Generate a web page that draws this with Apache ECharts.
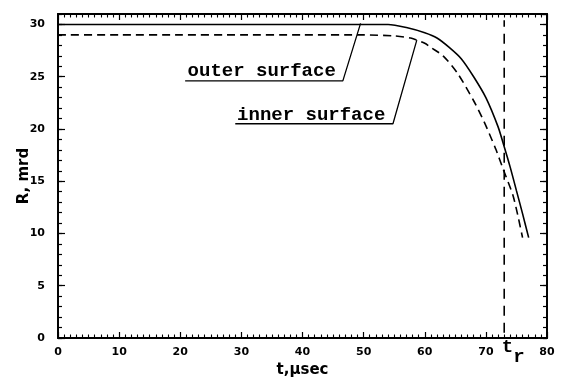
<!DOCTYPE html>
<html>
<head>
<meta charset="utf-8">
<script src="https://cdn.jsdelivr.net/npm/echarts@6/dist/echarts.min.js"></script>
<style>html,body{margin:0;padding:0;background:#fff}#c{width:563px;height:383px}</style>
</head>
<body>
<div id="c"></div>
<script>
// ---- data ----
const tOuter = [0, 10, 20, 30, 40, 50, 54, 57, 60, 62, 64, 66, 68, 70, 72, 73, 74, 75, 76, 77];
const rOuter = [30, 30, 30, 30, 30, 30, 30, 29.7, 29.2, 28.7, 27.8, 26.7, 25.0, 23.0, 20.2, 18.3, 16.3, 14.1, 11.9, 9.6];
const tInner = [0, 10, 20, 30, 40, 50, 55, 57.7, 60, 61, 63, 65.4, 68, 69.7, 71.6, 72.8, 74.4, 75.2, 76];
const rInner = [29, 29, 29, 29, 29, 29, 28.9, 28.7, 28.2, 27.8, 27.0, 25.3, 22.7, 20.7, 18.1, 16.2, 13.7, 11.8, 9.6];
const tR = 73;
const tRLine = [0.5, 30.4];
const outerLeader = [[20.8, 24.6], [46.6, 24.6], [49.5, 30.1]];
const innerLeader = [[29.0, 20.5], [54.8, 20.5], [58.7, 28.5]];
const outerLabel = {text: 'outer surface', at: [21.2, 25.5]};
const innerLabel = {text: 'inner surface', at: [29.3, 21.3]};
const xTicks = {min: 0, max: 80, interval: 10};
const yTicks = {min: 0, max: 31, interval: 5};

const zip = (a, b) => a.map((v, i) => [v, b[i]]);
const axFont = {fontFamily: 'DejaVu Sans', fontWeight: 'bold', fontSize: 11, color: '#000'};

function xAx(pos, show) {
  return {
    type: 'value', position: pos, min: xTicks.min, max: xTicks.max, interval: xTicks.interval,
    axisLine: {show: true, onZero: false, lineStyle: {color: '#000', width: 1.8}},
    axisTick: {show: true, inside: true, length: 6, lineStyle: {color: '#000', width: 1.2}},
    minorTick: {show: true, splitNumber: 10, length: 3.5, lineStyle: {color: '#000', width: 1.1}},
    axisLabel: Object.assign({show: show, margin: 9}, axFont),
    splitLine: {show: false}, minorSplitLine: {show: false},
    name: show ? 't,\u03bcsec' : '', nameLocation: 'middle', nameGap: 25,
    nameTextStyle: {fontFamily: 'DejaVu Sans', fontWeight: 'bold', fontSize: 15, color: '#000'}
  };
}
function yAx(pos, interval, tickLen, show) {
  return {
    type: 'value', position: pos, min: yTicks.min, max: yTicks.max, interval: interval,
    axisLine: {show: true, onZero: false, lineStyle: {color: '#000', width: 1.8}},
    axisTick: {show: true, inside: true, length: tickLen, lineStyle: {color: '#000', width: 1.2}},
    axisLabel: Object.assign({show: show, margin: 13, showMaxLabel: false}, axFont),
    splitLine: {show: false},
    name: show ? 'R, mrd' : '', nameLocation: 'middle', nameGap: 26, nameRotate: 90,
    nameMoveOverlap: false,
    nameTextStyle: {fontFamily: 'DejaVu Sans', fontWeight: 'bold', fontSize: 15, color: '#000'}
  };
}

const annFont = {fontFamily: 'Liberation Mono', fontWeight: 'bold', fontSize: 19, color: '#000',
  textBorderWidth: 0, textShadowBlur: 0, opacity: 1};

const option = {
  animation: false,
  backgroundColor: '#fff',
  grid: {left: 58, right: 16, top: 14, bottom: 45, containLabel: false},
  xAxis: [xAx('bottom', true), xAx('top', false)],
  yAxis: [
    yAx('left', yTicks.interval, 7, true),
    yAx('left', 1, 4, false),
    yAx('right', yTicks.interval, 7, false),
    yAx('right', 1, 4, false)
  ],
  series: [
    {type: 'line', data: zip(tOuter, rOuter), symbol: 'none', smooth: 0.25, lineStyle: {color: '#000', width: 1.6}},
    {type: 'line', data: zip(tInner, rInner), symbol: 'none', smooth: 0.25, lineStyle: {color: '#000', width: 1.6, type: [8, 5]}},
    {type: 'line', data: [[tR, tRLine[0]], [tR, tRLine[1]]], symbol: 'none', lineStyle: {color: '#000', width: 1.6, type: [10, 7]}},
    {type: 'line', data: outerLeader, symbol: 'none', lineStyle: {color: '#000', width: 1.3}},
    {type: 'line', data: innerLeader, symbol: 'none', lineStyle: {color: '#000', width: 1.3}},
    {type: 'scatter', symbolSize: 0, silent: true, itemStyle: {color: '#000', opacity: 1},
     data: [
       {value: outerLabel.at, name: outerLabel.text},
       {value: innerLabel.at, name: innerLabel.text}
     ],
     label: Object.assign({show: true, position: 'right', distance: 0, align: 'left', verticalAlign: 'middle', formatter: p => p.name}, annFont)
    },
    {type: 'scatter', symbolSize: 0, silent: true, itemStyle: {color: '#000', opacity: 1},
     data: [[tR, 0]],
     label: {show: true, position: 'bottom', distance: 0, offset: [9, 0], color: '#000',
       formatter: '{t|t}{r|r}',
       rich: {
         t: Object.assign({padding: [0, 0, 10, 0]}, annFont),
         r: Object.assign({padding: [10, 0, 0, 0]}, annFont)
       }}
    }
  ]
};
echarts.init(document.getElementById('c')).setOption(option);
</script>
</body>
</html>
